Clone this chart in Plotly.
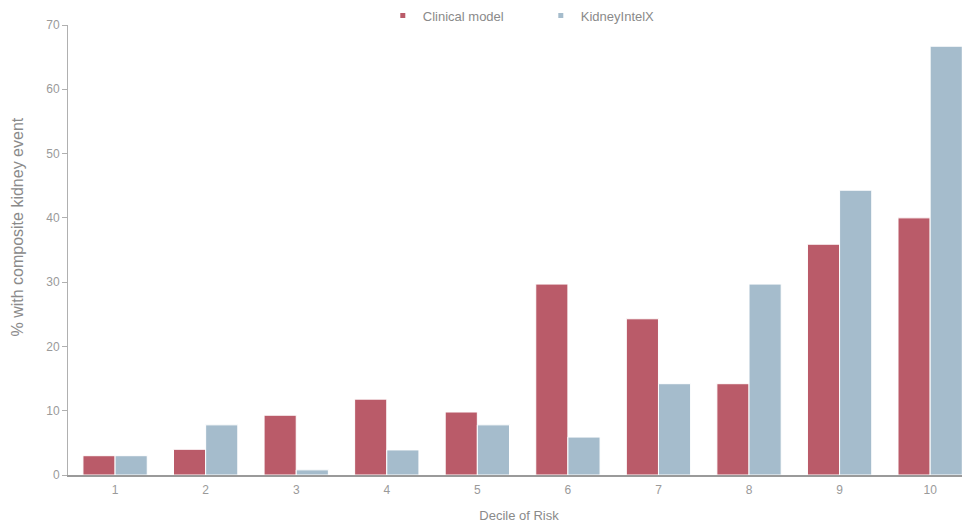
import plotly.graph_objects as go

deciles = ["1", "2", "3", "4", "5", "6", "7", "8", "9", "10"]
clinical = [3, 4, 9.3, 11.8, 9.8, 29.7, 24.3, 14.2, 35.9, 40]
kidney = [3, 7.8, 0.8, 3.9, 7.8, 5.9, 14.2, 29.7, 44.3, 66.7]
yticks = [0, 10, 20, 30, 40, 50, 60, 70]
series_names = ["Clinical model", "KidneyIntelX"]
series_colors = ["#BA5B69", "#A5BCCC"]

FONT = "Liberation Sans, Arial, sans-serif"

fig = go.Figure()
for name, vals, col in zip(series_names, [clinical, kidney], series_colors):
    fig.add_trace(go.Bar(x=deciles, y=vals, name=name, showlegend=False,
                         marker=dict(color=col, line=dict(color="white", width=1))))
# legend entries with small square markers
for name, col in zip(series_names, series_colors):
    fig.add_trace(go.Scatter(x=[None], y=[None], mode="markers", name=name,
                             marker=dict(symbol="square", size=5, color=col)))

# page body has an 8px default margin, so the figure is sized 8px smaller
fig.update_layout(
    width=962, height=522,
    margin=dict(l=60, r=0, t=17, b=55, autoexpand=False),
    paper_bgcolor="white", plot_bgcolor="white",
    font=dict(family=FONT, size=12, color="#9a9a9a"),
    barmode="group", bargap=0.29, bargroupgap=0.0,
    showlegend=True,
    legend=dict(orientation="h", x=0.349, xanchor="left", yref="paper", y=1.021, yanchor="middle",
                font=dict(family=FONT, size=13, color="#8a8a8a"), itemwidth=30,
                entrywidth=113, entrywidthmode="pixels"),
    xaxis=dict(title=dict(text="Decile of Risk", font=dict(family=FONT, size=13, color="#8a8a8a"), standoff=14),
               range=[-0.52, 9.44],
               showline=True, linecolor="#9a9a9a", linewidth=2, ticks="", ticklabelstandoff=3,
               showgrid=False, automargin=False, tickfont=dict(family=FONT, size=12, color="#9a9a9a")),
    yaxis=dict(range=[0, 70], tickvals=yticks, showline=True, linecolor="#b0b0b0", linewidth=1,
               ticks="outside", ticklen=5, tickcolor="#b0b0b0", showgrid=False, automargin=False,
               zeroline=False, tickfont=dict(family=FONT, size=12, color="#9a9a9a")),
    annotations=[dict(text="% with composite kidney event", textangle=-90,
                      xref="paper", yref="paper", x=-0.056, y=0.551,
                      xanchor="center", yanchor="middle", showarrow=False,
                      font=dict(family=FONT, size=16, color="#8a8a8a"))],
)

fig.write_html("out.html")
